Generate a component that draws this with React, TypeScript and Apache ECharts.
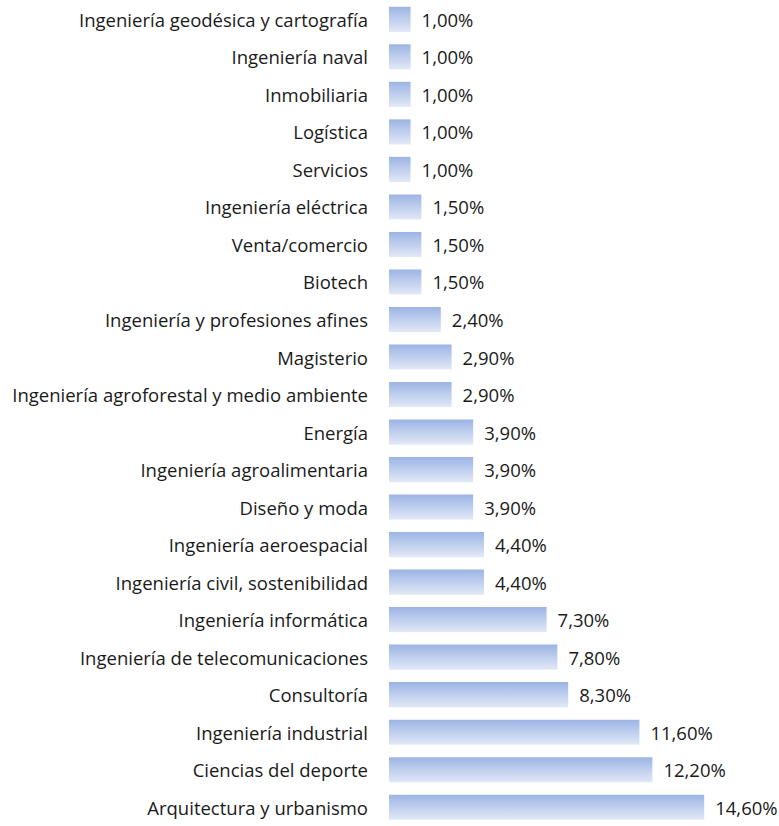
import React, { useEffect, useRef } from "react";
import * as echarts from "echarts";

const categories = [
  "Ingeniería geodésica y cartografía",
  "Ingeniería naval",
  "Inmobiliaria",
  "Logística",
  "Servicios",
  "Ingeniería eléctrica",
  "Venta/comercio",
  "Biotech",
  "Ingeniería y profesiones afines",
  "Magisterio",
  "Ingeniería agroforestal y medio ambiente",
  "Energía",
  "Ingeniería agroalimentaria",
  "Diseño y moda",
  "Ingeniería aeroespacial",
  "Ingeniería civil, sostenibilidad",
  "Ingeniería informática",
  "Ingeniería de telecomunicaciones",
  "Consultoría",
  "Ingeniería industrial",
  "Ciencias del deporte",
  "Arquitectura y urbanismo",
];

const values = [
  1.0, 1.0, 1.0, 1.0, 1.0, 1.5, 1.5, 1.5, 2.4, 2.9, 2.9, 3.9, 3.9, 3.9, 4.4, 4.4,
  7.3, 7.8, 8.3, 11.6, 12.2, 14.6,
];

const FONT = "Open Sans";

export default function App() {
  const ref = useRef<HTMLDivElement>(null);
  useEffect(() => {
    if (!ref.current) return;
    const chart = echarts.init(ref.current, null, { renderer: "svg" });
    chart.setOption({
      animation: false,
      grid: { left: 389, top: 0.6, width: 367, height: 831.5, containLabel: false },
      xAxis: {
        type: "value",
        min: 0,
        max: 17,
        show: false,
      },
      yAxis: {
        type: "category",
        inverse: true,
        data: categories,
        axisLine: { show: false },
        axisTick: { show: false },
        splitLine: { show: false },
        axisLabel: {
          margin: 21,
          color: "#1a1a1a",
          fontFamily: FONT,
          fontSize: 18.5,
        },
      },
      series: [
        {
          type: "bar",
          data: values,
          barCategoryGap: "33%",
          itemStyle: {
            color: new echarts.graphic.LinearGradient(0, 0, 0, 1, [
              { offset: 0, color: "#9cb4e4" },
              { offset: 1, color: "#e2e9f7" },
            ]),
          },
          label: {
            show: true,
            position: "right",
            distance: 11,
            color: "#1a1a1a",
            fontFamily: FONT,
            fontSize: 18.5,
            formatter: (p: any) => p.value.toFixed(2).replace(".", ",") + "%",
          },
        },
      ],
    });
    return () => chart.dispose();
  }, []);
  return (
    <div
      ref={ref}
      style={{ position: "fixed", left: 0, top: 0, width: 779, height: 826, background: "#fff" }}
    />
  );
}
